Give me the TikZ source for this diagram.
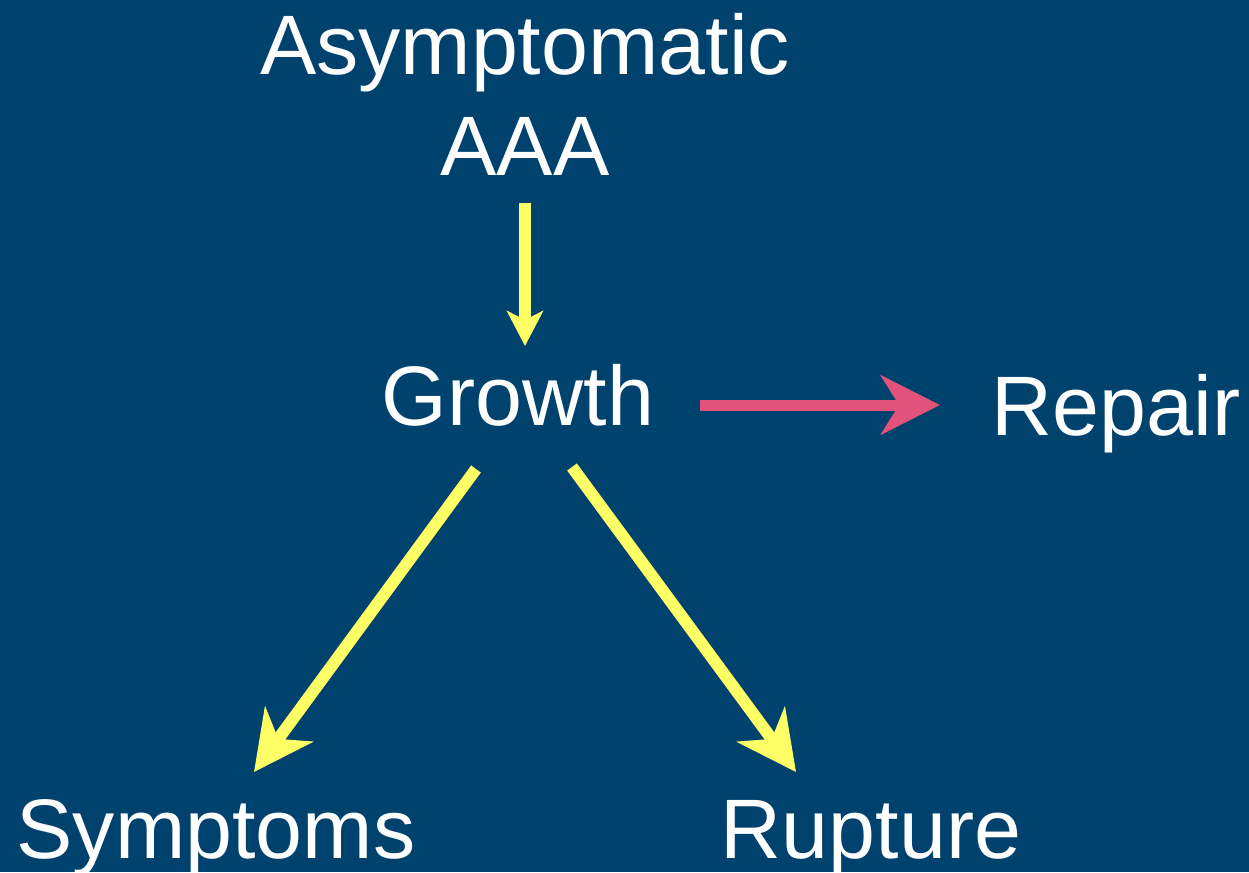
\documentclass[tikz,border=0pt]{standalone}
\usepackage{fontspec}
\setmainfont{Liberation Sans}
\usetikzlibrary{arrows.meta}
\definecolor{slidebg}{RGB}{0,66,110}
\definecolor{flowyellow}{RGB}{255,255,102}
\definecolor{flowpink}{RGB}{226,82,122}
\tikzset{
  label/.style={text=white, inner sep=0pt, anchor=base, align=center,
    font=\fontsize{24}{28.5}\selectfont},
  yarrow/.style={draw=flowyellow, fill=flowyellow, line width=0.12cm,
    -{Stealth[length=0.59cm, width=0.59cm, inset=0.18cm]}},
  parrow/.style={draw=flowpink, fill=flowpink, line width=0.11cm,
    -{Stealth[length=0.59cm, width=0.59cm, inset=0.18cm]}}
}
\begin{document}
\begin{tikzpicture}[x=0.01cm, y=-0.01cm]
\fill[slidebg] (0,0) rectangle (1249,872);
\useasboundingbox (0,0) rectangle (1249,872);
%----------------------------------
\node[label] (aaa) at (525,175) {Asymptomatic\\AAA};
\node[label] (growth) at (518,425) {Growth};
\node[label] (repair) at (1116,435) {Repair};
\node[label] (symptoms) at (216,858) {Symptoms};
\node[label] (rupture) at (871,858) {Rupture};
%----------------------------------
\coordinate (aaa-out) at (525,203);
\coordinate (growth-in) at (525,346);
\coordinate (growth-right) at (700,405);
\coordinate (repair-in) at (940,405);
\coordinate (growth-left) at (476,469);
\coordinate (symptoms-in) at (254,772);
\coordinate (growth-low) at (572,467);
\coordinate (rupture-in) at (796,772);
%----------------------------------
\draw[yarrow, -{Stealth[length=0.35cm, width=0.36cm, inset=0.09cm]}] (aaa-out) -- (growth-in);
\draw[parrow] (growth-right) -- (repair-in);
\draw[yarrow] (growth-left) -- (symptoms-in);
\draw[yarrow] (growth-low) -- (rupture-in);
\end{tikzpicture}
\end{document}
